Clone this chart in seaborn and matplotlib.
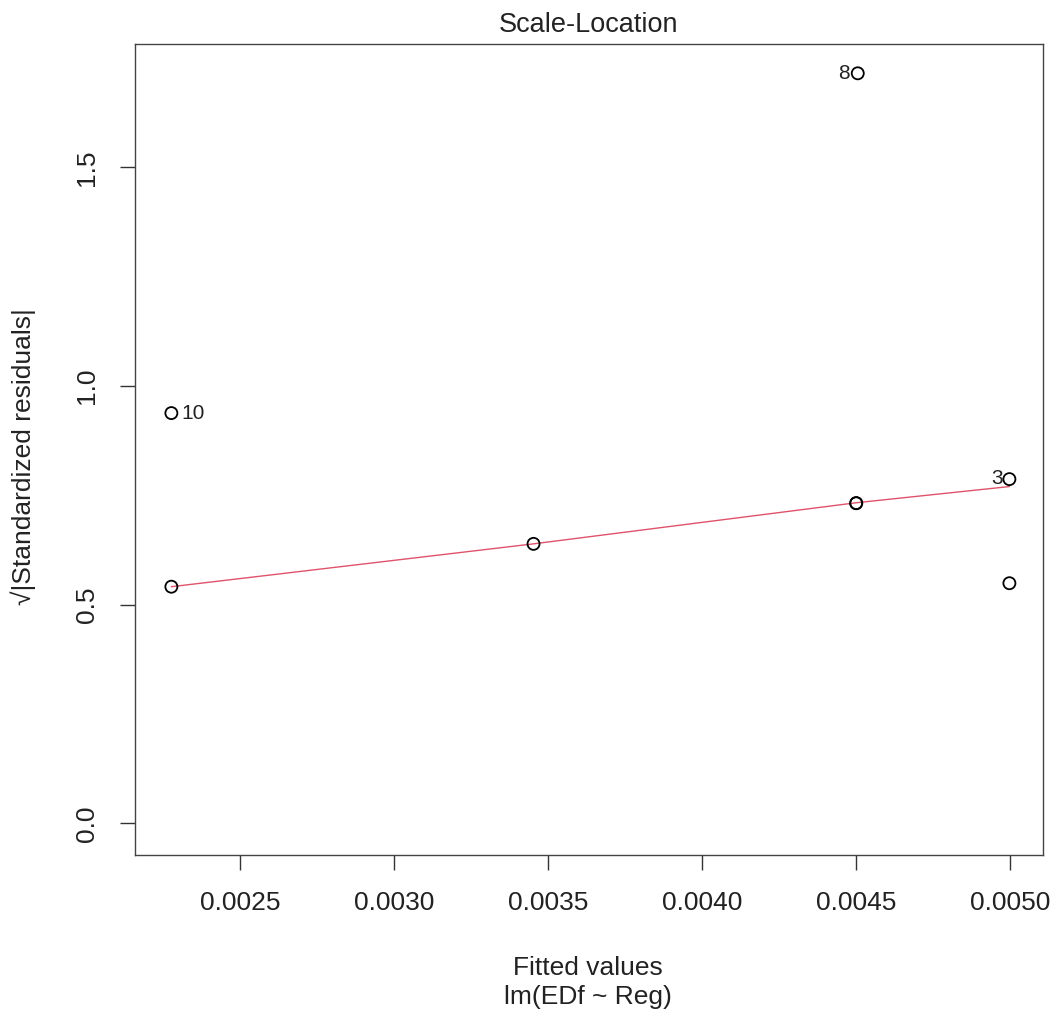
import matplotlib
matplotlib.use("Agg")
import matplotlib.pyplot as plt
import seaborn as sns
import pandas as pd

# ---- data ----
fitted = [0.002278, 0.002278, 0.003453, 0.004500, 0.004500, 0.004505, 0.004997, 0.004997]
sqrt_std_resid = [0.938, 0.541, 0.639, 0.732, 0.732, 1.715, 0.787, 0.549]
obs_labels = ["10", "", "", "", "", "8", "3", ""]

smooth_x = [0.002278, 0.003453, 0.004500, 0.004997]
smooth_y = [0.541, 0.639, 0.733, 0.770]

x_ticks = [0.0025, 0.0030, 0.0035, 0.0040, 0.0045, 0.0050]
x_tick_labels = ["0.0025", "0.0030", "0.0035", "0.0040", "0.0045", "0.0050"]
y_ticks = [0.0, 0.5, 1.0, 1.5]
y_tick_labels = ["0.0", "0.5", "1.0", "1.5"]

title = "Scale-Location"
xlabel = "Fitted values"
subtitle = "lm(EDf ~ Reg)"
ylabel = "\u221a|Standardized residuals|"

# ---- style ----
sns.set_style("white")
plt.rcParams["font.family"] = ["Liberation Sans", "DejaVu Sans"]
text_color = "#222222"

W, H = 1056, 1016
fig = plt.figure(figsize=(W / 100, H / 100), dpi=100)
ax = fig.add_axes([135 / W, 1 - 855 / H, (1043 - 135) / W, (855 - 44) / H])

df = pd.DataFrame({"fitted": fitted, "resid": sqrt_std_resid, "label": obs_labels})
sm = pd.DataFrame({"x": smooth_x, "y": smooth_y})

sns.lineplot(data=sm, x="x", y="y", ax=ax, color="#DF536B", linewidth=1.0, zorder=2)
sns.scatterplot(data=df, x="fitted", y="resid", ax=ax, s=75, facecolor="none",
                edgecolor="black", linewidth=1.3, zorder=3)

for _, r in df.iterrows():
    if r["label"] == "10":
        ax.annotate(r["label"], (r["fitted"], r["resid"]), xytext=(7.5, 0),
                    textcoords="offset points", ha="left", va="center",
                    fontsize=15, color=text_color)
    elif r["label"] == "8":
        ax.annotate(r["label"], (r["fitted"], r["resid"]), xytext=(-6, 0),
                    textcoords="offset points", ha="right", va="center",
                    fontsize=15, color=text_color)
    elif r["label"] == "3":
        ax.annotate(r["label"], (r["fitted"], r["resid"]), xytext=(-4.5, 0.5),
                    textcoords="offset points", ha="right", va="center",
                    fontsize=15, color=text_color)

ax.set_xlim(0.002160, 0.005106)
ax.set_ylim(-0.0725, 1.782)
ax.set_xticks(x_ticks)
ax.set_xticklabels(x_tick_labels)
ax.set_yticks(y_ticks)
ax.set_yticklabels(y_tick_labels, rotation=90, va="center")
ax.tick_params(axis="both", direction="out", length=10.8, width=1.0, color="#333333",
               labelsize=19, labelcolor=text_color, pad=15,
               bottom=True, left=True, top=False, right=False)
ax.set_xlabel("")
ax.set_ylabel("")
for s in ax.spines.values():
    s.set_color("#444444")
    s.set_linewidth(1.0)
    s.set_visible(True)
ax.grid(False)

fig.text(588 / W, 1 - 32 / H, title, ha="center", va="baseline", fontsize=19.5, color=text_color)
fig.text(588 / W, 1 - 968 / H, xlabel, ha="center", va="center", fontsize=19, color=text_color)
fig.text(588 / W, 1 - 997 / H, subtitle, ha="center", va="center", fontsize=19, color=text_color)
fig.text(23 / W, 1 - 457 / H, ylabel, ha="center", va="center", rotation=90,
         fontsize=19, color=text_color)

fig.savefig("out.png", dpi=100, facecolor="white")
